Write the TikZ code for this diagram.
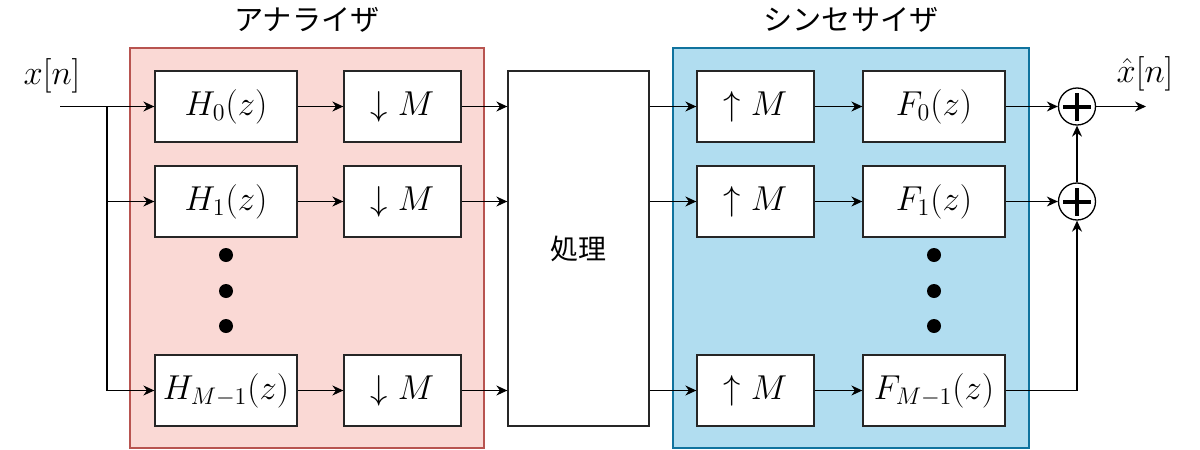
\documentclass[tikz,border=0pt]{standalone}
\usepackage{fontspec}
\newfontfamily\jp{Noto Sans CJK JP}
\usetikzlibrary{arrows.meta,calc}
\definecolor{pinkfill}{HTML}{FAD9D5}
\definecolor{pinkline}{HTML}{B85450}
\definecolor{bluefill}{HTML}{B1DDF0}
\definecolor{blueline}{HTML}{10739E}
\begin{document}
\begin{tikzpicture}[x=0.5pt,y=-0.5pt,
  box/.style={draw=black!85, fill=white, line width=0.65pt, minimum height=35.5pt, inner sep=0pt, font=\fontsize{18}{21}\selectfont},
  hbox/.style={box, minimum width=71pt},
  mbox/.style={box, minimum width=58.5pt},
  arr/.style={-{Stealth[length=5.5pt,width=5pt]}, line width=0.65pt},
  adder/.style={circle, draw, fill=white, line width=0.65pt, minimum size=18.5pt, inner sep=0pt,
    path picture={\draw[line width=2pt] ([xshift=-7pt]path picture bounding box.center) -- ([xshift=7pt]path picture bounding box.center);
                  \draw[line width=2pt] ([yshift=-7pt]path picture bounding box.center) -- ([yshift=7pt]path picture bounding box.center);}},
  title/.style={font=\jp\fontsize{14.6}{17}\selectfont},
  lbl/.style={font=\fontsize{18}{21}\selectfont}
]
\useasboundingbox (0,0) rectangle (1200,450);
% group backgrounds
\draw[fill=pinkfill, draw=pinkline, line width=0.65pt] (130,48) rectangle (484,448);
\draw[fill=bluefill, draw=blueline, line width=0.65pt] (673,48) rectangle (1029,448);
\node[title] (tA) at (307,20) {アナライザ};
\node[title] (tS) at (851,20) {シンセサイザ};
% analysis
\node[hbox] (H0) at (226,106.5) {$H_0(z)$};
\node[hbox] (H1) at (226,201.5) {$H_1(z)$};
\node[hbox] (HM) at (226,390.5) {$H_{M-1}(z)$};
\node[mbox] (D0) at (402.5,106.5) {$\downarrow M$};
\node[mbox] (D1) at (402.5,201.5) {$\downarrow M$};
\node[mbox] (DM) at (402.5,390.5) {$\downarrow M$};
% processing
\node[box, minimum width=70.5pt, minimum height=177.5pt, font=\jp\fontsize{14}{17}\selectfont] (P) at (578.5,248.5) {処理};
% synthesis
\node[mbox] (U0) at (755.5,106.5) {$\uparrow M$};
\node[mbox] (U1) at (755.5,201.5) {$\uparrow M$};
\node[mbox] (UM) at (755.5,390.5) {$\uparrow M$};
\node[hbox] (F0) at (934,106.5) {$F_0(z)$};
\node[hbox] (F1) at (934,201.5) {$F_1(z)$};
\node[hbox] (FM) at (934,390.5) {$F_{M-1}(z)$};
\node[adder] (A0) at (1077,106.5) {};
\node[adder] (A1) at (1077,201.5) {};
% dots
\foreach \yy in {255,291,326} {
  \fill (226,\yy) circle (3.5pt);
  \fill (934,\yy) circle (3.5pt);
}
% labels
\node[lbl] (xin) at (52,76) {$x[n]$};
\node[lbl] (xout) at (1145,74) {$\hat{x}[n]$};
\coordinate (in) at (60,106.5);
\coordinate (br) at (107,106.5);
\coordinate (out) at (1146,106.5);
% connectors
\draw[arr] (in) -- (H0.west);
\draw[arr] (br) |- (HM.west);
\draw[arr] (br |- H1.west) -- (H1.west);
\foreach \r in {0,1,M} {
  \draw[arr] (H\r.east) -- (D\r.west);
  \draw[arr] (D\r.east) -- (P.west |- D\r.east);
  \draw[arr] (P.east |- U\r.west) -- (U\r.west);
  \draw[arr] (U\r.east) -- (F\r.west);
}
\draw[arr] (F0.east) -- (A0.west);
\draw[arr] (F1.east) -- (A1.west);
\draw[arr] (FM.east) -| (A1.south);
\draw[arr] (A1.north) -- (A0.south);
\draw[arr] (A0.east) -- (out);
\end{tikzpicture}
\end{document}
